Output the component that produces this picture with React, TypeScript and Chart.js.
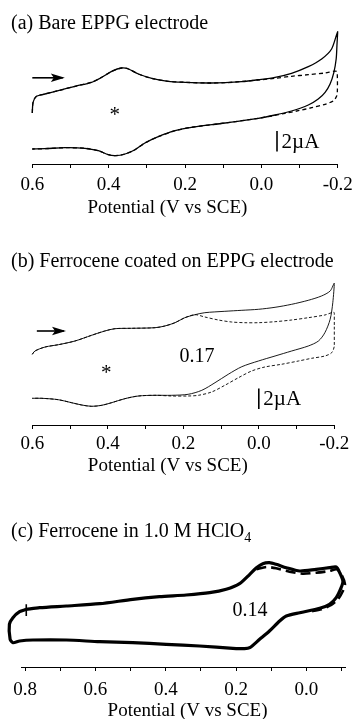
import React, { useEffect, useRef } from 'react';
import { Chart, registerables } from 'chart.js';

Chart.register(...registerables);

const SERIF = '"Liberation Serif", "Times New Roman", serif';

type P = [number, number];

// ---------- Panel (a): Bare EPPG electrode ----------
const aForward: P[] = [
  [0.6, 5.1], [0.598, 6.17], [0.589, 6.77], [0.567, 7.0], [0.532, 7.33], [0.488, 7.77],
  [0.445, 8.17], [0.418, 8.67], [0.392, 9.27], [0.366, 9.6], [0.348, 9.5], [0.322, 9.0],
  [0.287, 8.57], [0.244, 8.27], [0.2, 8.17], [0.139, 8.1], [0.095, 8.13], [0.052, 8.23],
  [0.008, 8.43], [-0.036, 8.67], [-0.079, 9.07], [-0.123, 9.73], [-0.158, 10.5],
  [-0.184, 11.5], [-0.2, 13.23],
];
const aReturn: P[] = [
  [-0.198, 11.83], [-0.196, 10.5], [-0.19, 9.17], [-0.18, 8.0], [-0.167, 7.17],
  [-0.149, 6.5], [-0.123, 5.9], [-0.079, 5.3], [-0.036, 4.9], [0.008, 4.57], [0.095, 4.1],
  [0.183, 3.67], [0.226, 3.33], [0.27, 2.73], [0.305, 2.1], [0.331, 1.43], [0.357, 1.0],
  [0.383, 0.83], [0.401, 0.93], [0.427, 1.33], [0.462, 1.57], [0.514, 1.63], [0.567, 1.53],
  [0.6, 1.5],
];
const aDashTurn: P[] = [
  [0.052, 8.25], [0.008, 8.4], [-0.036, 8.57], [-0.079, 8.77], [-0.123, 8.93], [-0.167, 9.1],
  [-0.197, 9.27], [-0.199, 8.83], [-0.199, 7.17], [-0.197, 6.77], [-0.189, 6.33],
  [-0.167, 5.97], [-0.132, 5.63], [-0.097, 5.33], [-0.062, 5.07], [-0.027, 4.8],
];
const aArrow: P[] = [[0.6, 8.62], [0.52, 8.62]];
const aScaleBar: P[] = [[-0.041, 1.25], [-0.041, 3.3]];

// ---------- Panel (b): Ferrocene coated on EPPG electrode ----------
const bForward: P[] = [
  [0.6, 7.07], [0.593, 7.4], [0.566, 7.8], [0.531, 8.03], [0.487, 8.4], [0.443, 8.97],
  [0.408, 9.4], [0.381, 9.63], [0.337, 9.67], [0.275, 9.73], [0.249, 9.9], [0.222, 10.23],
  [0.196, 10.73], [0.169, 11.03], [0.143, 11.23], [0.09, 11.37], [0.045, 11.47],
  [0.001, 11.57], [-0.043, 11.77], [-0.087, 12.07], [-0.131, 12.47], [-0.166, 12.9],
  [-0.189, 13.4], [-0.2, 14.17],
];
const bReturn: P[] = [
  [-0.196, 12.23], [-0.189, 10.57], [-0.175, 9.23], [-0.158, 8.4], [-0.131, 7.9],
  [-0.087, 7.4], [-0.043, 6.9], [0.001, 6.4], [0.045, 5.83], [0.081, 5.07], [0.116, 4.23],
  [0.151, 3.47], [0.187, 3.07], [0.231, 2.97], [0.275, 2.97], [0.319, 2.9], [0.355, 2.63],
  [0.39, 2.23], [0.416, 1.97], [0.443, 1.87], [0.469, 2.0], [0.496, 2.23], [0.531, 2.53],
  [0.575, 2.67], [0.6, 2.67],
];
const bDashTurn: P[] = [
  [0.143, 10.8], [0.107, 10.5], [0.072, 10.3], [0.037, 10.23], [0.001, 10.23],
  [-0.043, 10.33], [-0.087, 10.5], [-0.131, 10.73], [-0.175, 11.0], [-0.2, 11.23],
  [-0.2, 9.9], [-0.2, 7.9], [-0.193, 7.23], [-0.175, 6.9], [-0.14, 6.67], [-0.105, 6.4],
  [-0.06, 6.07], [-0.016, 5.8], [0.019, 5.4], [0.054, 4.73], [0.09, 3.97], [0.125, 3.3],
  [0.16, 2.97], [0.187, 2.9], [0.231, 2.9],
];
const bArrow: P[] = [[0.588, 9.4], [0.516, 9.4]];
const bScaleBar: P[] = [[0.0, 1.6], [0.0, 3.65]];

// ---------- Panel (c): Ferrocene in 1.0 M HClO4 ----------
const cSolid: P[] = [
  [0.797, 5.77], [0.759, 5.93], [0.683, 6.1], [0.588, 6.33], [0.494, 6.77], [0.418, 7.03],
  [0.342, 7.2], [0.275, 7.43], [0.228, 7.77], [0.19, 8.33], [0.161, 9.27], [0.142, 9.93],
  [0.124, 10.33], [0.105, 10.43], [0.086, 10.27], [0.057, 9.93], [0.019, 9.6],
  [-0.028, 9.77], [-0.066, 9.93], [-0.085, 10.0], [-0.095, 9.43], [-0.104, 8.6],
  [-0.099, 7.93], [-0.085, 6.93], [-0.066, 6.27], [-0.038, 5.87], [0.019, 5.43],
  [0.057, 5.1], [0.076, 4.6], [0.105, 3.6], [0.133, 2.77], [0.161, 1.93], [0.176, 1.83],
  [0.209, 1.87], [0.304, 2.1], [0.399, 2.27], [0.494, 2.43], [0.588, 2.53], [0.683, 2.7],
  [0.778, 2.7], [0.816, 2.6], [0.835, 2.43], [0.843, 2.77], [0.845, 4.27], [0.835, 4.93],
  [0.816, 5.53], [0.797, 5.77],
];
const cDashed: P[] = [
  [0.142, 9.77], [0.114, 10.0], [0.086, 9.87], [0.048, 9.53], [0.01, 9.33], [-0.028, 9.43],
  [-0.066, 9.6], [-0.087, 9.77], [-0.102, 9.1], [-0.11, 8.27], [-0.104, 7.6], [-0.09, 6.77],
  [-0.071, 6.2], [-0.043, 5.77], [-0.009, 5.53],
];
const cStartMark: P[] = [[0.797, 6.27], [0.797, 5.1]];

// ---------- Labels ----------
const AXIS_TITLE = 'Potential (V vs SCE)';
const SCALE_LABEL = '2\u00b5A';

type Note = { x: number; y: number; text: string; size: number; align: CanvasTextAlign; dy?: number };

interface Spec {
  xMin: number;
  xMax: number;
  yMax: number;
  padding: { left: number; right: number; top: number; bottom: number };
  axisHeight: number;
  tickPad: number;
  lineWidth: number;
  dashWidth: number;
  dash: number[];
  tension: number;
  solid: P[];
  dashed: P[];
  extras: P[][];
  arrow?: P[];
  notes: Note[];
  axisTitleX: number;
  axisTitleDy: number;
}

const pick = (pts: P[], f: (p: P) => boolean) => pts.filter(f);

const specA: Spec = {
  xMin: -0.2, xMax: 0.6, yMax: 14,
  padding: { left: 32.3, right: 14.3, top: 24, bottom: 28 },
  axisHeight: 30,
  tickPad: 6.1,
  lineWidth: 1.3, dashWidth: 1.3, dash: [4, 3], tension: 0.3,
  solid: [...aForward, ...aReturn],
  dashed: [...pick(aForward, (p) => p[0] >= 0.09), ...aDashTurn, ...pick(aReturn, (p) => p[0] >= 0.0)],
  extras: [aArrow, aScaleBar],
  arrow: aArrow,
  notes: [
    { x: 0.384, y: 5.25, text: '*', size: 21, align: 'center', dy: 4 },
    { x: -0.053, y: 2.15, text: SCALE_LABEL, size: 21, align: 'left' },
  ],
  axisTitleX: 0.246, axisTitleDy: 44.5,
};

const specB: Spec = {
  xMin: -0.2, xMax: 0.6, yMax: 15,
  padding: { left: 32.3, right: 17.7, top: 35, bottom: 25 },
  axisHeight: 30,
  tickPad: 3.6,
  lineWidth: 0.9, dashWidth: 0.9, dash: [3, 2], tension: 0.3,
  solid: [...bForward, ...bReturn],
  dashed: [...pick(bForward, (p) => p[0] >= 0.16), ...bDashTurn, ...pick(bReturn, (p) => p[0] >= 0.27)],
  extras: [bArrow, bScaleBar],
  arrow: bArrow,
  notes: [
    { x: 0.404, y: 5.6, text: '*', size: 21, align: 'center', dy: 4 },
    { x: 0.164, y: 6.87, text: '0.17', size: 20, align: 'center' },
    { x: -0.012, y: 2.55, text: SCALE_LABEL, size: 21, align: 'left' },
  ],
  axisTitleX: 0.241, axisTitleDy: 41,
};

const specC: Spec = {
  xMin: -0.11, xMax: 0.81, yMax: 11,
  padding: { left: 21.7, right: 7, top: 77, bottom: 22 },
  axisHeight: 30,
  tickPad: 7.6,
  lineWidth: 3.2, dashWidth: 2.6, dash: [10, 5], tension: 0.25,
  solid: cSolid,
  dashed: cDashed,
  extras: [cStartMark],
  notes: [{ x: 0.16, y: 5.6, text: '0.14', size: 20, align: 'center' }],
  axisTitleX: 0.338, axisTitleDy: 44,
};

const toXY = (pts: P[]) => pts.map(([x, y]) => ({ x, y }));

function makeNotesPlugin(spec: Spec) {
  return {
    id: 'cvNotes',
    afterDatasetsDraw(chart: any) {
      const { ctx } = chart;
      const xs = chart.scales.x;
      const ys = chart.scales.y;
      ctx.save();
      ctx.fillStyle = '#000';
      if (spec.arrow) {
        const [p0, p1] = spec.arrow;
        const x0 = xs.getPixelForValue(p0[0]);
        const x1 = xs.getPixelForValue(p1[0]);
        const yy = ys.getPixelForValue(p1[1]);
        const d = Math.sign(x1 - x0) || 1;
        ctx.beginPath();
        ctx.moveTo(x1 + d * 2, yy);
        ctx.lineTo(x1 - d * 12, yy - 4.2);
        ctx.lineTo(x1 - d * 9, yy);
        ctx.lineTo(x1 - d * 12, yy + 4.2);
        ctx.closePath();
        ctx.fill();
      }
      for (const n of spec.notes) {
        ctx.font = `${n.size}px ${SERIF}`;
        ctx.textAlign = n.align;
        ctx.textBaseline = 'middle';
        ctx.fillText(n.text, xs.getPixelForValue(n.x), ys.getPixelForValue(n.y) + (n.dy ?? 0));
      }
      ctx.font = `19px ${SERIF}`;
      ctx.textAlign = 'center';
      ctx.textBaseline = 'middle';
      ctx.fillText(AXIS_TITLE, xs.getPixelForValue(spec.axisTitleX), chart.chartArea.bottom + spec.axisTitleDy);
      ctx.restore();
    },
  };
}

function Panel({ spec, top, height }: { spec: Spec; top: number; height: number }) {
  const ref = useRef<HTMLCanvasElement>(null);
  useEffect(() => {
    const canvas = ref.current;
    if (!canvas) return;
    const lineBase = { showLine: true, pointRadius: 0, borderColor: '#000', fill: false, clip: false as any };
    const chart = new Chart(canvas, {
      type: 'scatter',
      data: {
        datasets: [
          { ...lineBase, data: toXY(spec.solid), borderWidth: spec.lineWidth, tension: spec.tension },
          { ...lineBase, data: toXY(spec.dashed), borderWidth: spec.dashWidth, borderDash: spec.dash, tension: spec.tension },
          ...spec.extras.map((e) => ({ ...lineBase, data: toXY(e), borderWidth: 1.6, tension: 0 })),
        ],
      } as any,
      options: {
        animation: false,
        responsive: false,
        devicePixelRatio: 1,
        events: [],
        layout: { padding: spec.padding },
        plugins: { legend: { display: false }, tooltip: { enabled: false }, title: { display: false } },
        scales: {
          x: {
            type: 'linear',
            min: spec.xMin,
            max: spec.xMax,
            reverse: true,
            border: { display: true, color: '#000', width: 1 },
            grid: { display: true, drawOnChartArea: false, drawTicks: true, tickLength: 4, tickColor: '#000', tickWidth: 1 },
            ticks: {
              stepSize: 0.1,
              autoSkip: false,
              maxRotation: 0,
              minRotation: 0,
              includeBounds: false,
              padding: spec.tickPad,
              color: '#000',
              font: { family: SERIF, size: 19 },
              callback: (v: any) => {
                const r = Math.round(Number(v) * 10);
                return r % 2 === 0 ? (r / 10).toFixed(1) : '';
              },
            },
            afterFit: (scale: any) => {
              scale.height = spec.axisHeight;
              scale.paddingLeft = 0;
              scale.paddingRight = 0;
            },
          },
          y: { display: false, min: 0, max: spec.yMax },
        },
      } as any,
      plugins: [makeNotesPlugin(spec)],
    });
    return () => chart.destroy();
  }, [spec]);
  return (
    <canvas
      ref={ref}
      width={352}
      height={height}
      style={{ position: 'absolute', left: 0, top, width: 352, height, display: 'block' }}
    />
  );
}

const titleStyle = (top: number): React.CSSProperties => ({
  position: 'absolute',
  left: 11,
  top,
  fontFamily: SERIF,
  fontSize: 20,
  lineHeight: '20px',
  color: '#000',
  whiteSpace: 'nowrap',
  zIndex: 2,
});

export default function App() {
  return (
    <div
      style={{
        position: 'absolute',
        left: 0,
        top: 0,
        width: 352,
        height: 719,
        overflow: 'hidden',
        background: '#fff',
      }}
    >
      <Panel spec={specA} top={0} height={222} />
      <Panel spec={specB} top={240} height={240} />
      <Panel spec={specC} top={480} height={239} />
      <div style={titleStyle(12)}>(a) Bare EPPG electrode</div>
      <div style={titleStyle(250)}>(b) Ferrocene coated on EPPG electrode</div>
      <div style={titleStyle(520)}>
        (c) Ferrocene in 1.0 M HClO
        <sub style={{ fontSize: 14, verticalAlign: '-5px', lineHeight: 0 }}>4</sub>
      </div>
    </div>
  );
}
